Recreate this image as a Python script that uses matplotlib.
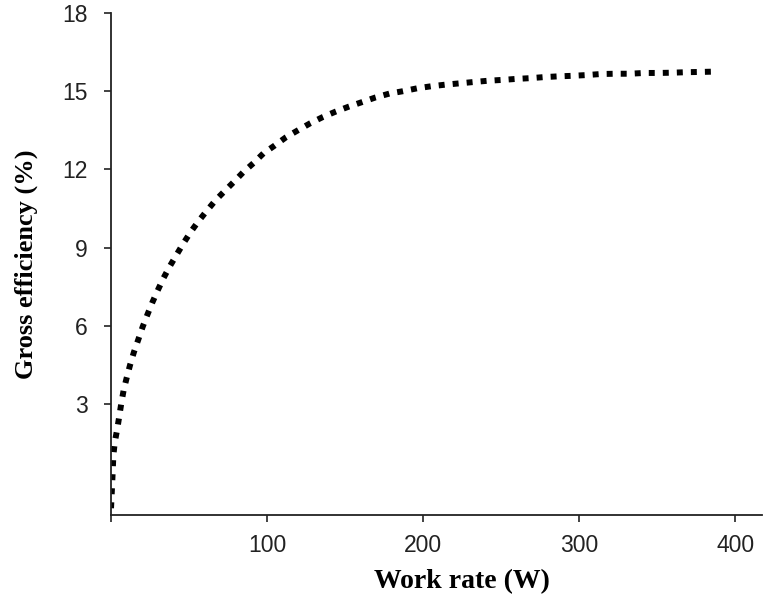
import matplotlib
matplotlib.use("Agg")
import matplotlib.pyplot as plt

# Punkty: moc (W) i sprawność brutto (%)
work_rate = [0, 0.8, 1.5, 2.4, 4.0, 5.3, 6.6, 8.1, 10.0, 12.2, 14.7, 17.5, 20.3,
             23.3, 26.4, 29.9, 33.5, 37.6, 42.0, 46.3, 51.0, 56.1, 61.3, 67.0,
             72.6, 78.8, 84.8, 91.2, 97.7, 104.7, 112.0, 119.7, 127.6, 135.7,
             144.0, 152.4, 160.7, 169.4, 178.4, 187.0, 196.0, 205.1, 214.0,
             223.0, 231.8, 241.2, 252.3, 259.0, 268.3, 277.2, 286.5, 295.4,
             304.7, 313.9, 323.3, 332.3, 341.5, 350.6, 359.6, 368.8, 378.2, 385.9]
gross_eff = [-0.99, 0.03, 1.03, 1.54, 2.05, 2.54, 3.04, 3.54, 4.0, 4.5, 5.0, 5.48,
             5.97, 6.43, 6.89, 7.36, 7.82, 8.28, 8.73, 9.16, 9.6, 10.02, 10.41,
             10.82, 11.16, 11.53, 11.9, 12.24, 12.62, 12.91, 13.23, 13.5, 13.77,
             14.01, 14.22, 14.41, 14.58, 14.76, 14.91, 15.0, 15.11, 15.19, 15.25,
             15.3, 15.35, 15.4, 15.44, 15.47, 15.5, 15.54, 15.57, 15.59, 15.62,
             15.66, 15.67, 15.67, 15.7, 15.7, 15.71, 15.73, 15.74, 15.75]

x_ticks = [0, 100, 200, 300, 400]
x_tick_labels = ["", "100", "200", "300", "400"]
y_ticks = [3, 6, 9, 12, 15, 18]

fig = plt.figure(figsize=(7.63, 6.01), dpi=100)
ax = fig.add_axes([0.1455, 0.1431, 0.853, 0.8353])

ax.plot(work_rate, gross_eff, color="black", linewidth=4.3,
        linestyle=(0, (1.0, 1.35)), dash_capstyle="butt")

ax.set_xlim(0, 417)
ax.set_ylim(-1.25, 18)
ax.set_xticks(x_ticks)
ax.set_xticklabels(x_tick_labels)
ax.set_yticks(y_ticks)

for side in ["top", "right"]:
    ax.spines[side].set_visible(False)
for side in ["left", "bottom"]:
    ax.spines[side].set_linewidth(1.3)
    ax.spines[side].set_color("#222222")

ax.tick_params(axis="both", direction="out", length=5, width=1.2,
               colors="#222222", labelsize=16.5)
ax.tick_params(axis="x", pad=9)
ax.tick_params(axis="y", pad=12)
for lab in ax.get_xticklabels() + ax.get_yticklabels():
    lab.set_fontfamily("Liberation Sans")

fig.text(0.6055, 0.032, "Work rate (W)", ha="center", va="center",
         fontfamily="Liberation Serif", fontweight="bold", fontsize=20)
fig.text(0.034, 0.561, "Gross efficiency (%)", ha="center", va="center",
         rotation=90, fontfamily="Liberation Serif", fontweight="bold",
         fontsize=19)

fig.savefig("out.png", dpi=100)
